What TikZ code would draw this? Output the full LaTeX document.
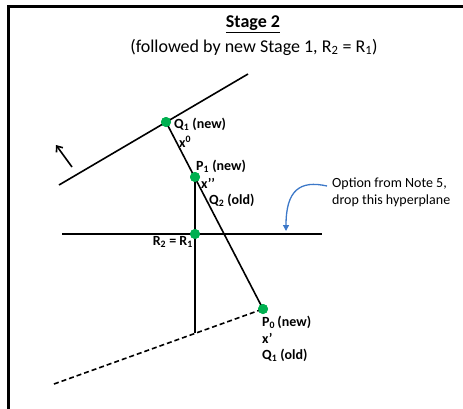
\documentclass[tikz,border=0pt]{standalone}
\usepackage{fontspec}
\setmainfont{Carlito}
\usetikzlibrary{arrows.meta}
\definecolor{dotgreen}{RGB}{0,176,80}
\definecolor{arrowblue}{RGB}{60,120,200}
\newcommand{\sbs}[1]{\textsubscript{#1}}
\newcommand{\sps}[1]{\textsuperscript{#1}}
\begin{document}
\begin{tikzpicture}[x=1pt,y=-1pt,
  hline/.style={line width=1.6pt},
  gdot/.style={circle,fill=dotgreen,inner sep=0pt,minimum size=10pt},
  lbl/.style={font=\fontsize{14}{16}\selectfont\bfseries,inner sep=0pt,anchor=west},
  note/.style={font=\fontsize{14}{17}\selectfont,inner sep=0pt,anchor=west,align=left}]
\useasboundingbox (0,0) rectangle (463,408);
\draw[line width=3pt] (8.5,420) -- (8.5,6.5) -- (470,6.5);
% title
\node[font=\fontsize{18}{20}\selectfont\bfseries] (title) at (253,24) {\underline{Stage 2}};
\node[font=\fontsize{18}{20}\selectfont] (sub) at (254,47) {(followed by new Stage 1, R\sbs{2} = R\sbs{1})};
% coordinates
\coordinate (UL) at (59,185);
\coordinate (UR) at (248,74);
\coordinate (HL) at (62,234);
\coordinate (HR) at (322,234);
\coordinate (VB) at (195,333);
\coordinate (DL) at (54,384);
\coordinate (AT) at (72,167);
\coordinate (AH) at (56,145);
\node[gdot] (Q1) at (166,122) {};
\node[gdot] (P1) at (195,177) {};
\node[gdot] (R) at (195,234) {};
\node[gdot] (P0) at (263,309) {};
% lines
\draw[hline] (UL) -- (UR);
\draw[hline] (HL) -- (HR);
\draw[hline] (Q1.center) -- (P0.center);
\draw[hline] (P1.center) -- (VB);
\draw[hline,dash pattern=on 5pt off 3pt] (DL) -- (P0.center);
\draw[hline,-{Straight Barb[length=5pt,width=8pt]}] (AT) -- (AH);
% redraw dots on top
\node[gdot] at (Q1) {};
\node[gdot] at (P1) {};
\node[gdot] at (R) {};
\node[gdot] at (P0) {};
% labels
\node[lbl] (lq1) at (174,124) {Q\sbs{1} (new)};
\node[lbl] (lx0) at (179,142) {x\sps{0}};
\node[lbl] (lp1) at (196,166) {P\sbs{1} (new)};
\node[lbl] (lxpp) at (201,183) {x’’};
\node[lbl] (lq2) at (209,200) {Q\sbs{2} (old)};
\node[lbl,anchor=east] (lr) at (193,242) {R\sbs{2} = R\sbs{1}};
\node[lbl] (lp0) at (262,322) {P\sbs{0}\,(new)};
\node[lbl] (lxp) at (262,338) {x’};
\node[lbl] (lq1o) at (262,355) {Q\sbs{1} (old)};
\node[note] (opt) at (332,192) {Option from Note 5,\\drop this hyperplane};
\coordinate (ae) at (286,231);
\draw[arrowblue,line width=1.3pt,-{Triangle[length=6pt,width=6pt]}] (327,186) .. controls (300,180) and (286,190) .. (ae);
\end{tikzpicture}
\end{document}
